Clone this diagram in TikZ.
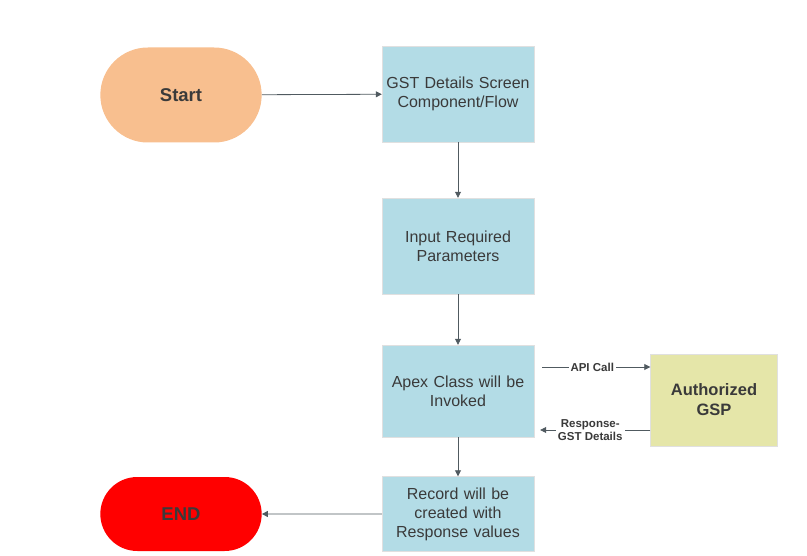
\documentclass[tikz,border=0pt]{standalone}
\usepackage{fontspec}
\setmainfont{Liberation Sans}
\usetikzlibrary{shapes, arrows.meta, positioning}
\definecolor{startorange}{HTML}{F8BF8F}
\definecolor{stepblue}{HTML}{B3DCE6}
\definecolor{gspyellow}{HTML}{E5E6A9}
\definecolor{endred}{HTML}{FF0000}
\definecolor{linegray}{HTML}{505A60}
\definecolor{textgray}{HTML}{3A3A3A}

\begin{document}
\begin{tikzpicture}[x=1pt, y=-1pt,
  terminal/.style={rounded rectangle, minimum width=168pt, minimum height=95pt, text=textgray, font=\fontsize{18.5}{22}\selectfont\bfseries},
  stepbox/.style={draw=black!12, fill=stepblue, minimum width=152pt, text width=146pt, inner xsep=3pt, align=center, text=textgray, font=\fontsize{16}{19}\selectfont},
  flow/.style={draw=linegray, -{Triangle[length=6pt, width=6pt]}, line width=0.8pt},
  tag/.style={fill=white, inner sep=2pt, align=center, text=textgray, font=\fontsize{11.5}{13}\selectfont\bfseries}
]
  \useasboundingbox (0,0) rectangle (807,556);

  \node[terminal, fill=startorange] (start) at (181, 95) {Start};
  \node[stepbox, minimum height=96pt] (screen) at (458, 94) {GST Details Screen\\Component/Flow};
  \node[stepbox, minimum height=96pt] (input) at (458, 246) {Input Required\\Parameters};
  \node[stepbox, minimum height=92pt] (apex) at (458, 391) {Apex Class will be\\Invoked};
  \node[stepbox, minimum height=75pt] (record) at (458, 514) {Record will be\\created with\\Response values};
  \node[draw=black!12, fill=gspyellow, minimum width=127pt, minimum height=92pt, align=center, text=textgray, font=\fontsize{16.5}{20}\selectfont\bfseries] (gsp) at (714, 400) {Authorized\\GSP};
  \node[terminal, fill=endred, minimum height=74pt] (end) at (181, 514) {END};

  % main flow
  \draw[flow] (start) -- (screen);
  \draw[flow] (screen) -- (input);
  \draw[flow] (input) -- (apex);
  \draw[flow] (apex) -- (record);
  \draw[flow] (record) -- (end);

  % call to the GSP and back
  \draw[flow, shorten <=8pt] (apex.east |- 0,367) -- (gsp.west |- 0,367)
    node[tag, midway] {API Call};
  \draw[flow, shorten >=6pt] (gsp.west |- 0,430) -- (apex.east |- 0,430)
    node[tag, midway, xshift=-2pt] {Response-\\GST Details};
\end{tikzpicture}
\end{document}
